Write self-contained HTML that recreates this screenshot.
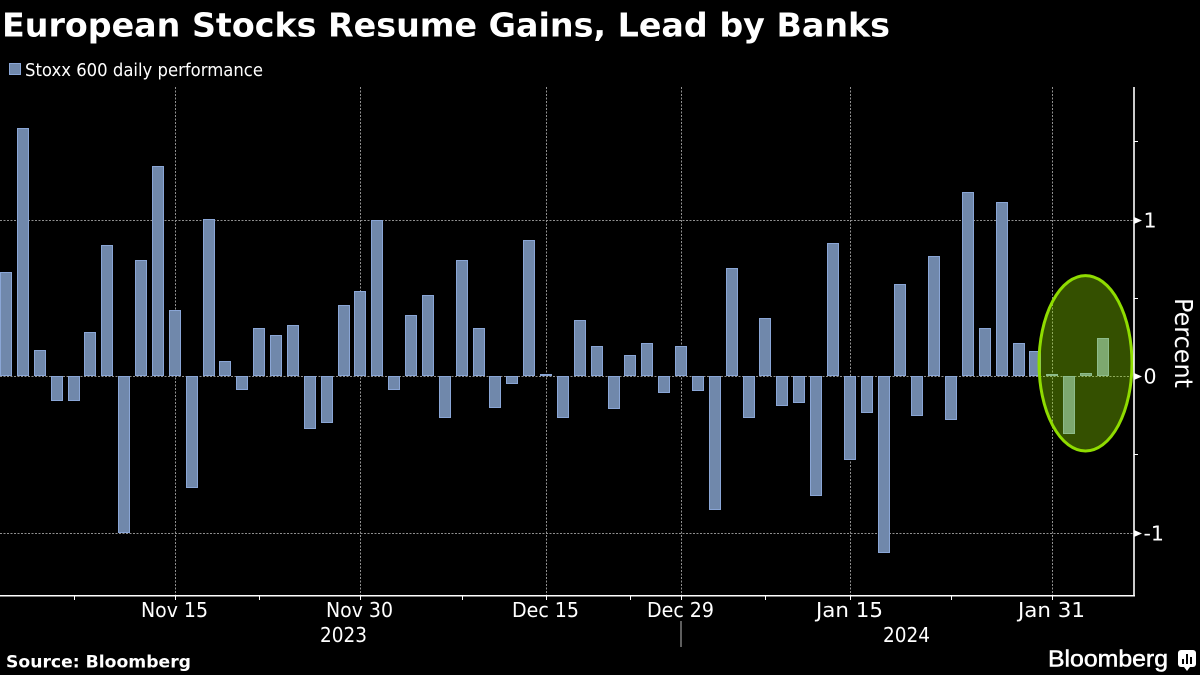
<!DOCTYPE html>
<html lang="en">
<head>
<meta charset="utf-8">
<title>European Stocks Resume Gains, Lead by Banks</title>
<style>
html,body{margin:0;padding:0;background:#000;width:1200px;height:675px;overflow:hidden}
svg{display:block}
text{font-family:"DejaVu Sans","Liberation Sans",sans-serif;fill:#fff}
</style>
</head>
<body>
<svg id="chart" xmlns="http://www.w3.org/2000/svg" width="1200" height="675" viewBox="0 0 1200 675">
  <rect x="0" y="0" width="1200" height="675" fill="#000"/>
  <text x="2" y="36.5" font-size="33" font-weight="700" textLength="888" lengthAdjust="spacingAndGlyphs">European Stocks Resume Gains, Lead by Banks</text>
  <rect x="9.5" y="63.5" width="11" height="11" fill="#7088ab" stroke="#8aa6d6" stroke-width="1"/>
  <text x="25" y="76" font-size="17.5" textLength="238" lengthAdjust="spacingAndGlyphs">Stoxx 600 daily performance</text>
  <g id="grid"></g>
  <g id="bars"></g>
  <ellipse cx="1085.5" cy="363.3" rx="46.5" ry="87.7" fill="rgba(148,228,0,0.35)" stroke="#8fdc00" stroke-width="3"/>
  <g id="axes"></g>
  <text x="343.5" y="642" font-size="20" text-anchor="middle" textLength="47" lengthAdjust="spacingAndGlyphs">2023</text>
  <text x="906.5" y="642" font-size="20" text-anchor="middle" textLength="47" lengthAdjust="spacingAndGlyphs">2024</text>
  <rect x="680.5" y="621" width="1" height="26" fill="#bbb"/>
  <text transform="translate(1175,298) rotate(90)" x="0" y="0" font-size="25" textLength="90" lengthAdjust="spacingAndGlyphs">Percent</text>
  <text x="6" y="667.5" font-size="17" font-weight="700" textLength="185" lengthAdjust="spacingAndGlyphs">Source: Bloomberg</text>
  <text x="1048" y="666.5" font-size="23" textLength="120" lengthAdjust="spacingAndGlyphs" stroke="#fff" stroke-width="0.5" style="font-family:'Liberation Sans',sans-serif">Bloomberg</text>
  <g>
    <rect x="1178" y="650" width="18" height="17" rx="3" fill="#fff"/>
    <path d="M1184 667l3 4 3-4z" fill="#fff"/>
    <rect x="1182" y="659" width="2" height="5" fill="#000"/>
    <rect x="1186" y="654" width="2" height="10" fill="#000"/>
    <rect x="1190" y="657" width="2" height="7" fill="#000"/>
  </g>
</svg>
<script>
const categories = [
  "2023-11-01","2023-11-02","2023-11-03","2023-11-06","2023-11-07","2023-11-08","2023-11-09","2023-11-10","2023-11-13","2023-11-14","2023-11-15",
  "2023-11-16","2023-11-17","2023-11-20","2023-11-21","2023-11-22","2023-11-23","2023-11-24","2023-11-27","2023-11-28","2023-11-29","2023-11-30",
  "2023-12-01","2023-12-04","2023-12-05","2023-12-06","2023-12-07","2023-12-08","2023-12-11","2023-12-12","2023-12-13","2023-12-14","2023-12-15",
  "2023-12-18","2023-12-19","2023-12-20","2023-12-21","2023-12-22","2023-12-27","2023-12-28","2023-12-29",
  "2024-01-02","2024-01-03","2024-01-04","2024-01-05","2024-01-08","2024-01-09","2024-01-10","2024-01-11","2024-01-12","2024-01-15",
  "2024-01-16","2024-01-17","2024-01-18","2024-01-19","2024-01-22","2024-01-23","2024-01-24","2024-01-25","2024-01-26","2024-01-29","2024-01-30","2024-01-31",
  "2024-02-01","2024-02-02","2024-02-05"
];
const dailyPerformance = [
  0.669,1.583,0.170,-0.158,-0.158,0.285,0.841,-1.000,0.745,1.340,0.426,
  -0.714,1.007,0.094,-0.087,0.305,0.266,0.330,-0.337,-0.298,0.452,0.547,
  0.997,-0.087,0.394,0.522,-0.266,0.745,0.305,-0.202,-0.049,0.873,0.013,
  -0.266,0.362,0.190,-0.209,0.138,0.215,-0.106,0.190,
  -0.094,-0.854,0.694,-0.266,0.375,-0.190,-0.170,-0.765,0.848,-0.535,
  -0.234,-1.129,0.586,-0.253,0.771,-0.279,1.180,0.305,1.110,0.209,0.164,0.013,
  -0.370,0.019,0.243
];
const majorDates = ["2023-11-15","2023-11-30","2023-12-15","2023-12-29","2024-01-15","2024-01-31"];
const majorLabels = ["Nov 15","Nov 30","Dec 15","Dec 29","Jan 15","Jan 31"];
const minorDates = ["2023-11-07","2023-11-22","2023-12-08","2023-12-22","2024-01-08","2024-01-23"];
const yTicks = [1,0,-1];
const yMinorTicks = [1.5,0.5,-0.5];
const yLabels = ["1","0","-1"];

const NS = "http://www.w3.org/2000/svg";
const plotRight = 1134, plotTop = 87, plotBottom = 596;
const step = 16.875;
const barWidth = 12;
function barLeft(i){ return Math.round(step * i); }
function xCenter(date){ return Math.round(step * categories.indexOf(date) + barWidth / 2) + 0.5; }
function yScale(v){ return 376.2 - 156.5 * v; }
function make(tag, parent){
  const n = document.createElementNS(NS, tag);
  parent.appendChild(n);
  return n;
}
function setAll(n, props){ for (const k in props) n.setAttribute(k, props[k]); return n; }

const gridG = document.getElementById("grid");
const barsG = document.getElementById("bars");
const axesG = document.getElementById("axes");

majorDates.forEach(function(d){
  const line = make("line", gridG);
  
  
  const x = xCenter(d);
  setAll(line, {x1:x, x2:x, y1:plotTop, y2:plotBottom, stroke:"#909090", "stroke-width":1, "stroke-dasharray":"2 1.5"});
});
yTicks.forEach(function(v){
  const line = make("line", gridG);
  
  
  const y = Math.round(yScale(v)) + 0.5;
  setAll(line, {x1:0, x2:plotRight, y1:y, y2:y, stroke:"#909090", "stroke-width":1, "stroke-dasharray":"2 1.5"});
});

dailyPerformance.forEach(function(v, i){
  const r = make("rect", barsG);
  
  
  const y0 = Math.round(yScale(0));
  const y1 = Math.round(yScale(v));
  const top = Math.min(y0, y1), bottom = Math.max(y0, y1);
  setAll(r, {x:barLeft(i) + 0.5, y:top + 0.5, width:barWidth - 1, height:Math.max(bottom - top - 1, 1),
             fill:"#7088ab", stroke:"#8aa6d6", "stroke-width":1});
});

const xAxisLine = make("rect", axesG);


setAll(xAxisLine, {x:0, y:595, width:plotRight + 1, height:1.5, fill:"#fff"});

const yAxisLine = make("rect", axesG);


setAll(yAxisLine, {x:1133.2, y:plotTop, width:1.6, height:plotBottom - plotTop, fill:"#fff"});

majorDates.forEach(function(d, i){
  const x = xCenter(d);
  const t = make("line", axesG);
  
  
  setAll(t, {x1:x, x2:x, y1:595, y2:600, stroke:"#fff", "stroke-width":1});
  const lab = make("text", axesG);
  
  
  setAll(lab, {x:x - 1, y:617, "font-size":20, "text-anchor":"middle", textLength:67, lengthAdjust:"spacingAndGlyphs"});
  lab.textContent = majorLabels[i];
});
minorDates.forEach(function(d){
  const x = xCenter(d);
  const t = make("line", axesG);
  
  
  setAll(t, {x1:x, x2:x, y1:595, y2:600, stroke:"#fff", "stroke-width":1});
});

yMinorTicks.forEach(function(v){
  const y = Math.round(yScale(v)) + 0.5;
  const t = make("line", axesG);
  
  
  setAll(t, {x1:plotRight, x2:plotRight + 4, y1:y, y2:y, stroke:"#fff", "stroke-width":1});
});
yTicks.forEach(function(v, i){
  const y = Math.round(yScale(v)) + 0.5;
  const tri = make("path", axesG);
  
  
  setAll(tri, {d:"M" + plotRight + " " + (y - 3.5) + "L" + (plotRight + 8) + " " + y + "L" + plotRight + " " + (y + 3.5) + "Z", fill:"#fff"});
  const lab = make("text", axesG);
  
  
  setAll(lab, {x:1143.5, y:y + 7, "font-size":20.5});
  lab.textContent = yLabels[i];
});
</script>
</body>
</html>
